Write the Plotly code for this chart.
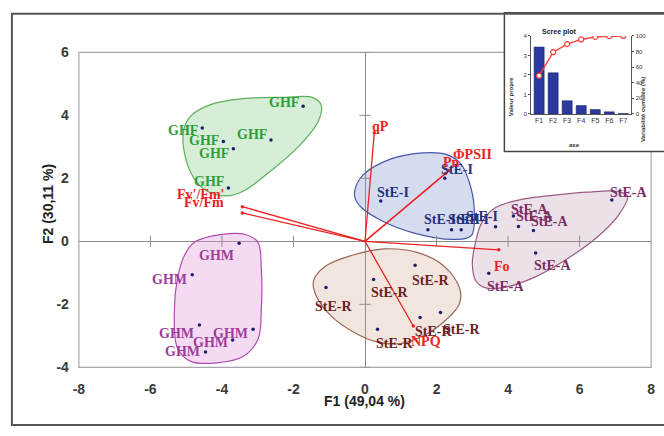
import plotly.graph_objects as go

W, H = 664, 436

# ---------------- data ----------------
ghf_x = [-1.73, -4.55, -3.96, -2.63, -3.68, -3.82]
ghf_y = [4.29, 3.60, 3.17, 3.22, 2.94, 1.69]
ghm_x = [-3.52, -4.83, -4.63, -3.13, -3.70, -4.46]
ghm_y = [-0.06, -1.06, -2.66, -2.79, -3.13, -3.51]
stei_x = [0.44, 2.23, 1.76, 2.42, 2.69, 3.65]
stei_y = [1.28, 2.00, 0.37, 0.37, 0.37, 0.46]
stea_x = [6.90, 4.15, 4.29, 4.71, 4.77, 3.46]
stea_y = [1.31, 0.80, 0.47, 0.34, -0.37, -1.01]
ster_x = [-1.09, 0.24, 1.40, 1.54, 2.11, 0.35]
ster_y = [-1.47, -1.21, -0.76, -2.42, -2.26, -2.79]

var_names = ["qP", "ΦPSII", "Pn", "Fv'/Fm'", "Fv/Fm", "Fo", "NPQ"]
var_x = [0.26, 2.35, 2.25, -3.43, -3.43, 3.74, 1.35]
var_y = [3.45, 2.25, 2.15, 1.10, 0.90, -0.27, -2.69]

# hand-drawn group outlines (data coordinates)
ghf_hull_x = [-4.87, -4.32, -3.41, -2.31, -1.48, -1.23, -1.30, -1.85, -2.67, -3.41, -3.87, -4.41, -4.78, -5.05, -5.07]
ghf_hull_y = [3.98, 4.34, 4.53, 4.57, 4.57, 4.34, 3.83, 3.02, 2.20, 1.59, 1.44, 1.59, 2.00, 2.81, 3.53]
stei_hull_x = [-0.29, -0.06, 0.71, 1.63, 2.27, 2.68, 2.91, 3.05, 2.97, 2.50, 1.35, 0.44, -0.11, -0.27]
stei_hull_y = [1.59, 2.10, 2.61, 2.81, 2.76, 2.46, 1.90, 1.08, 0.18, 0.06, 0.27, 0.67, 1.08, 1.34]
stea_hull_x = [3.10, 3.00, 3.08, 3.27, 3.65, 4.29, 5.11, 6.21, 7.03, 7.34, 7.09, 6.48, 5.66, 4.70, 3.87, 3.35]
stea_hull_y = [-1.26, -0.70, -0.09, 0.61, 1.07, 1.31, 1.44, 1.56, 1.59, 1.44, 0.83, 0.12, -0.55, -1.16, -1.47, -1.47]
ster_hull_x = [-1.44, -1.12, -0.38, 0.53, 1.45, 2.18, 2.64, 2.64, 2.27, 1.63, 0.99, 0.35, -0.29, -0.93, -1.35]
ster_hull_y = [-1.26, -0.80, -0.45, -0.24, -0.35, -0.76, -1.47, -1.98, -2.49, -3.00, -3.25, -3.20, -2.90, -2.39, -1.77]
ghm_hull_x = [-4.78, -4.05, -3.32, -2.99, -2.90, -2.90, -2.99, -3.41, -4.14, -4.87, -5.24, -5.33, -5.24, -5.05]
ghm_hull_y = [-0.04, 0.21, 0.21, -0.04, -0.86, -2.18, -3.10, -3.66, -3.86, -3.81, -3.40, -2.18, -1.16, -0.45]

x_ticks = [-8, -6, -4, -2, 0, 2, 4, 6, 8]
y_ticks = [-4, -2, 0, 2, 4, 6]

scree_axes = ["F1", "F2", "F3", "F4", "F5", "F6", "F7"]
eigenvalues = [3.43, 2.11, 0.68, 0.43, 0.23, 0.11, 0.02]
cumulative = [49.04, 79.15, 89.5, 95.5, 98.8, 99.7, 100]

# ---------------- styling ----------------
RED = "#ee2222"
DOT = "#1b1f73"
SERIF = "Liberation Serif"
SANS = "Liberation Sans"


def P(px):
    return px / W


def Q(py):
    return (H - py) / H


fig = go.Figure()

hulls = [
    (ghf_hull_x, ghf_hull_y, "rgba(120,195,120,0.30)", "#5cb05c"),
    (stea_hull_x, stea_hull_y, "rgba(175,120,155,0.22)", "#9a5c84"),
    (stei_hull_x, stei_hull_y, "rgba(120,140,205,0.30)", "#4a58a8"),
    (ster_hull_x, ster_hull_y, "rgba(200,150,120,0.25)", "#9a6656"),
    (ghm_hull_x, ghm_hull_y, "rgba(225,145,215,0.33)", "#b04cb0"),
]
for hx, hy, fc, lc in hulls:
    fig.add_trace(go.Scatter(
        x=hx + [hx[0]], y=hy + [hy[0]], mode="lines",
        line=dict(color=lc, width=1.2, shape="spline", smoothing=1.0),
        fill="toself", fillcolor=fc, hoverinfo="skip", showlegend=False,
        xaxis="x", yaxis="y"))

# tick marks on the zero lines
inner_x = [v for v in x_ticks if v not in (-8, 0, 8)]
inner_y = [v for v in y_ticks if v != 0]
fig.add_trace(go.Scatter(
    x=inner_x, y=[0] * len(inner_x), mode="markers",
    marker=dict(symbol="line-ns", size=8, line=dict(color="#8c8c8c", width=1)),
    hoverinfo="skip", showlegend=False))
fig.add_trace(go.Scatter(
    x=[0] * len(inner_y), y=inner_y, mode="markers",
    marker=dict(symbol="line-ew", size=8, line=dict(color="#8c8c8c", width=1)),
    hoverinfo="skip", showlegend=False))

# variable vectors
lx, ly = [], []
for vx, vy in zip(var_x, var_y):
    lx += [0, vx, None]
    ly += [0, vy, None]
fig.add_trace(go.Scatter(x=lx, y=ly, mode="lines", line=dict(color=RED, width=1.3),
                         hoverinfo="skip", showlegend=False))
fig.add_trace(go.Scatter(x=var_x, y=var_y, mode="markers", marker=dict(color=RED, size=3.5),
                         hoverinfo="skip", showlegend=False))

# observations
for gx, gy in [(ghf_x, ghf_y), (ghm_x, ghm_y), (stei_x, stei_y), (stea_x, stea_y), (ster_x, ster_y)]:
    fig.add_trace(go.Scatter(x=gx, y=gy, mode="markers", marker=dict(color=DOT, size=3.5),
                             hoverinfo="skip", showlegend=False))

# observation labels
groups = [
    ("GHF", ghf_x, ghf_y, "#2e9e3a", ["right"] * 6, [-3] * 6, [4, -3, 1, 5, -5, 7]),
    ("GHM", ghm_x, ghm_y, "#a03c9a", ["right"] * 6, [-4] * 6, [-12, -5, -8, -4, -3, 0]),
    ("StE-I", stei_x, stei_y, "#25307f", ["left"] * 5 + ["right"], [-5] * 5 + [3], [8, 9, 10, 10, 10, 10]),
    ("StE-A", stea_x, stea_y, "#7b2d62", ["left"] * 6, [-3] * 6, [8, 7, 10, 9, -13, -13]),
    ("StE-R", ster_x, ster_y, "#6e1f24", ["left"] * 6, [-12, -4, -4, -6, 2, -3], [-19, -13, -15, -14, -17, -14]),
]
for name, gx, gy, col, anchors, xs, ys in groups:
    for x, y, a, dx, dy in zip(gx, gy, anchors, xs, ys):
        fig.add_annotation(x=x, y=y, xref="x", yref="y", text="<b>%s</b>" % name,
                           showarrow=False, xanchor=a, yanchor="middle", xshift=dx, yshift=dy,
                           font=dict(family=SERIF, size=14, color=col), borderpad=0)

var_anchor = ["left", "left", "left", "right", "right", "center", "center"]
var_dx = [-3, 3, -3, -17, -17, 3, 13]
var_dy = [6, 16, 11, 12, 10, -17, -15]
for n, x, y, a, dx, dy in zip(var_names, var_x, var_y, var_anchor, var_dx, var_dy):
    fig.add_annotation(x=x, y=y, xref="x", yref="y", text="<b>%s</b>" % n, showarrow=False,
                       xanchor=a, yanchor="middle", xshift=dx, yshift=dy, borderpad=0,
                       font=dict(family=SERIF, size=14, color=RED))

# ---------------- scree plot inset ----------------
fig.add_trace(go.Bar(x=scree_axes, y=eigenvalues, marker=dict(color="#2b3a9c", line=dict(color="#1a2470", width=0.5)),
                     xaxis="x2", yaxis="y2", hoverinfo="skip", showlegend=False))
fig.add_trace(go.Scatter(x=scree_axes, y=cumulative, mode="lines+markers",
                         line=dict(color="#ff3a3a", width=1.4),
                         marker=dict(symbol="circle", size=5, color="white", line=dict(color="#ff3a3a", width=1.2)),
                         xaxis="x2", yaxis="y3", hoverinfo="skip", showlegend=False))

tickfont = dict(family=SANS, size=14, color="#3a3a3a", weight="bold")
small = dict(family=SANS, size=6, color="#333")

fig.update_layout(
    width=W, height=H, margin=dict(l=0, r=0, t=0, b=0),
    paper_bgcolor="white", plot_bgcolor="rgba(0,0,0,0)", showlegend=False,
    bargap=0.28,
    xaxis=dict(domain=[P(74), P(655)], range=[-8, 8], tickvals=x_ticks,
               ticktext=[str(v) for v in x_ticks], showgrid=False,
               zeroline=True, zerolinecolor="#8c8c8c", zerolinewidth=1, showline=False,
               ticks="", ticklabelstandoff=12, tickfont=tickfont, fixedrange=True),
    yaxis=dict(domain=[Q(373), Q(46)], range=[-4, 6], tickvals=y_ticks,
               ticktext=[str(v) for v in y_ticks], showgrid=False,
               zeroline=True, zerolinecolor="#8c8c8c", zerolinewidth=1, showline=False,
               ticks="", ticklabelstandoff=9, tickfont=tickfont, fixedrange=True),
    xaxis2=dict(domain=[P(533), P(635)], anchor="y2", type="category", showline=True,
                linecolor="#555", linewidth=1, ticks="", tickfont=dict(family=SANS, size=7, color="#333"),
                showgrid=False),
    yaxis2=dict(domain=[Q(110), Q(29)], anchor="x2", range=[0, 4], tickvals=[0, 1, 2, 3, 4],
                showline=True, linecolor="#555", linewidth=1, ticks="outside", ticklen=2,
                tickcolor="#555", tickfont=small, showgrid=False, zeroline=False),
    yaxis3=dict(overlaying="y2", side="right", anchor="x2", range=[0, 100],
                tickvals=[0, 20, 40, 60, 80, 100], showline=True, linecolor="#555", linewidth=1,
                ticks="outside", ticklen=2, tickcolor="#555", tickfont=small, showgrid=False,
                zeroline=False),
    shapes=[
        dict(type="rect", xref="paper", yref="paper", x0=P(74), x1=P(655), y0=Q(373), y1=Q(46),
             line=dict(color="#a8a8a8", width=1.2), layer="below"),
        dict(type="rect", xref="paper", yref="paper", x0=P(506), x1=P(672), y0=Q(149), y1=Q(5),
             line=dict(color="#444", width=1.5), fillcolor="white", layer="below"),
        dict(type="rect", xref="paper", yref="paper", x0=P(6), x1=P(672), y0=Q(433), y1=Q(6),
             line=dict(color="#555", width=2), layer="below"),
    ],
)

fig.add_annotation(xref="paper", yref="paper", x=P(364), y=Q(418), text="<b>F1 (49,04 %)</b>",
                   showarrow=False, font=dict(family=SANS, size=14, color="#222"))
fig.add_annotation(xref="paper", yref="paper", x=P(32), y=Q(204), text="<b>F2 (30,11 %)</b>",
                   showarrow=False, textangle=-90, font=dict(family=SANS, size=14, color="#222"))
fig.add_annotation(xref="paper", yref="paper", x=P(582), y=Q(19), text="<b>Scree plot</b>",
                   showarrow=False, font=dict(family=SANS, size=7, color="#222"))
fig.add_annotation(xref="paper", yref="paper", x=P(518), y=Q(70), text="<b>Valeur propre</b>",
                   showarrow=False, textangle=-90, font=dict(family=SANS, size=6, color="#333"))
fig.add_annotation(xref="paper", yref="paper", x=P(652), y=Q(70), text="<b>Variabilité cumulée (%)</b>",
                   showarrow=False, textangle=-90, font=dict(family=SANS, size=6, color="#333"))
fig.add_annotation(xref="paper", yref="paper", x=P(585), y=Q(137), text="<b>axe</b>",
                   showarrow=False, font=dict(family=SANS, size=6, color="#333"))

fig.write_html("out.html")
